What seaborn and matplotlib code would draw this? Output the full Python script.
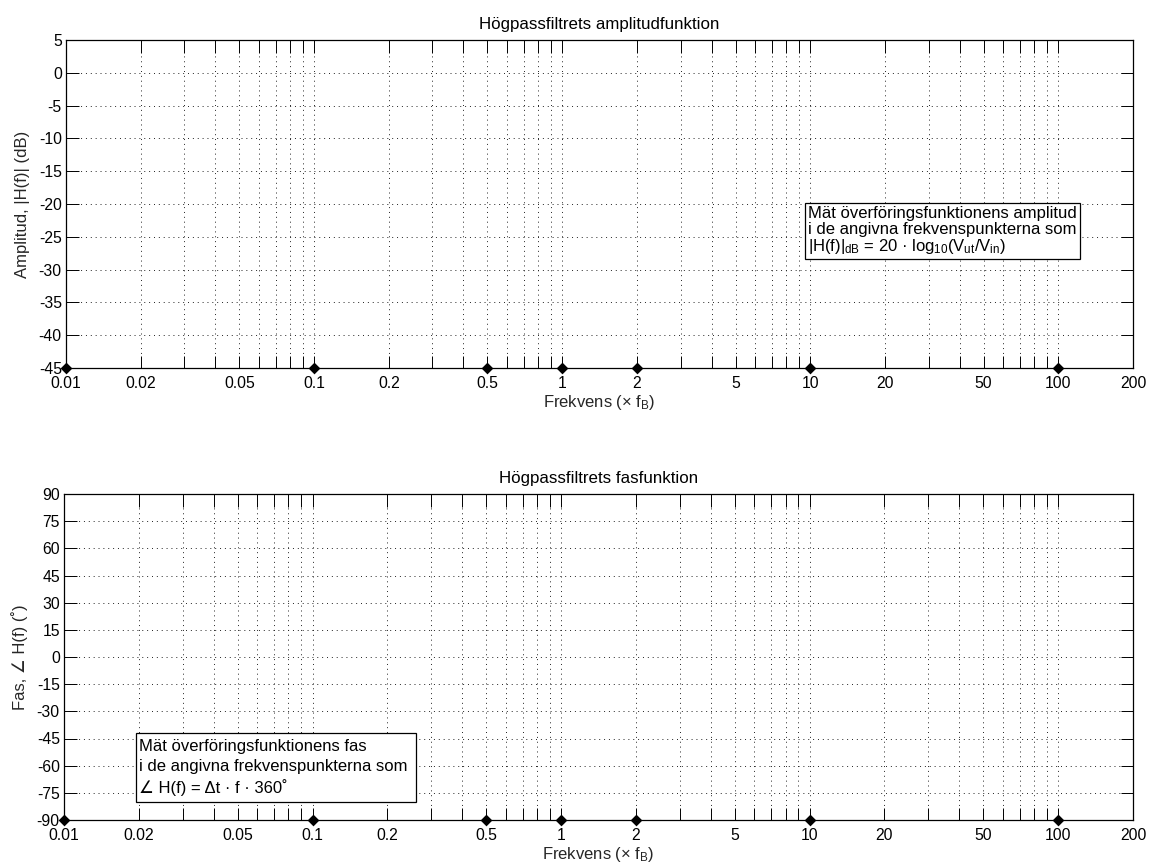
import numpy as np
import matplotlib
matplotlib.use("Agg")
import matplotlib.pyplot as plt
from matplotlib.ticker import FixedLocator, FixedFormatter, LogLocator, NullFormatter
from matplotlib.patches import Rectangle
import seaborn as sns

# ---------------- data ----------------
freq_points = [0.01, 0.1, 0.5, 1, 2, 10, 100]
amp_levels = [-45, -45, -45, -45, -45, -45, -45]
phase_levels = [-90, -90, -90, -90, -90, -90, -90]

x_tick_values = [0.01, 0.02, 0.05, 0.1, 0.2, 0.5, 1, 2, 5, 10, 20, 50, 100, 200]
x_tick_labels = ['0.01', '0.02', '0.05', '0.1', '0.2', '0.5', '1', '2', '5',
                 '10', '20', '50', '100', '200']
amp_ticks = [-45, -40, -35, -30, -25, -20, -15, -10, -5, 0, 5]
phase_ticks = [-90, -75, -60, -45, -30, -15, 0, 15, 30, 45, 60, 75, 90]

title_amp = "Högpassfiltrets amplitudfunktion"
title_phase = "Högpassfiltrets fasfunktion"
xlabel_text = r"Frekvens (× f$_{\mathrm{B}}$)"
ylabel_amp = "Amplitud, |H(f)| (dB)"
ylabel_phase = "Fas, ∠ H(f) (˚)"
box_amp = ("Mät överföringsfunktionens amplitud\n"
           "i de angivna frekvenspunkterna som\n"
           r"|H(f)|$_{\mathrm{dB}}$ = 20 · log$_{10}$(V$_{\mathrm{ut}}$/V$_{\mathrm{in}}$)")
box_phase = ("Mät överföringsfunktionens fas\n"
             "i de angivna frekvenspunkterna som\n"
             "∠ H(f) = Δt · f · 360˚")

# ---------------- style ----------------
sns.set_theme(style="white")
plt.rcParams['font.family'] = ['Liberation Sans', 'DejaVu Sans']
plt.rcParams['mathtext.fontset'] = 'custom'
plt.rcParams['mathtext.rm'] = 'Liberation Sans'
plt.rcParams['mathtext.it'] = 'Liberation Sans:italic'
plt.rcParams['mathtext.bf'] = 'Liberation Sans:bold'
plt.rcParams['mathtext.fallback'] = 'stixsans'
plt.rcParams['axes.edgecolor'] = 'black'
plt.rcParams['text.color'] = 'black'
plt.rcParams['xtick.color'] = 'black'
plt.rcParams['ytick.color'] = 'black'

W, H = 1150, 867
fig = plt.figure(figsize=(W / 100, H / 100), dpi=100)
fig.patch.set_facecolor('white')

ax1 = fig.add_axes([66 / W, (H - 368) / H, 1067 / W, 328 / H])
ax2 = fig.add_axes([64 / W, (H - 820) / H, 1069 / W, 326 / H])

grid_kw = dict(color='#222222', linestyle=(0, (1, 4)), linewidth=0.7)


def style_axis(ax, yticks, ylim, title, ylabel):
    ax.set_xscale('log')
    ax.set_xlim(0.01, 200)
    ax.set_ylim(*ylim)
    ax.xaxis.set_major_locator(FixedLocator(x_tick_values))
    ax.xaxis.set_major_formatter(FixedFormatter(x_tick_labels))
    ax.xaxis.set_minor_locator(LogLocator(base=10, subs=np.arange(1, 10), numticks=100))
    ax.xaxis.set_minor_formatter(NullFormatter())
    ax.set_yticks(yticks)
    ax.set_yticklabels([str(v) for v in yticks])
    ax.tick_params(which='both', direction='in', length=9, width=0.7,
                   top=True, right=True, bottom=True, left=True, labelsize=11.3)
    ax.tick_params(axis='x', which='major', pad=6)
    ax.tick_params(axis='y', which='major', pad=3)
    ax.grid(False)
    ax.grid(True, which='both', axis='x', **grid_kw)
    ax.grid(True, which='major', axis='y', **grid_kw)
    ax.set_axisbelow(True)
    for sp in ax.spines.values():
        sp.set_visible(True)
        sp.set_linewidth(0.9)
        sp.set_color('black')
    ax.set_title(title, fontsize=12.2, pad=8)
    ax.set_xlabel(xlabel_text, fontsize=12, labelpad=1)
    ax.set_ylabel(ylabel, fontsize=12, labelpad=6)
    ax.set_facecolor('white')


# ---------------- top: amplitude ----------------
sns.scatterplot(x=freq_points, y=amp_levels, marker='D', s=36, color='black',
                edgecolor='black', linewidth=0, ax=ax1, clip_on=False, zorder=5)
style_axis(ax1, amp_ticks, (-45, 5), title_amp, ylabel_amp)

ax1.add_patch(Rectangle((0.6926, 0.332), 0.258, 0.171, transform=ax1.transAxes,
                        facecolor='white', edgecolor='black', linewidth=0.9, zorder=3))
ax1.text(0.6955, 0.4175, box_amp, transform=ax1.transAxes, ha='left', va='center',
         fontsize=12, linespacing=1.05, zorder=4)

# ---------------- bottom: phase ----------------
sns.scatterplot(x=freq_points, y=phase_levels, marker='D', s=36, color='black',
                edgecolor='black', linewidth=0, ax=ax2, clip_on=False, zorder=5)
style_axis(ax2, phase_ticks, (-90, 90), title_phase, ylabel_phase)

ax2.add_patch(Rectangle((0.0674, 0.055), 0.2615, 0.212, transform=ax2.transAxes,
                        facecolor='white', edgecolor='black', linewidth=0.9, zorder=3))
ax2.text(0.0700, 0.161, box_phase, transform=ax2.transAxes, ha='left', va='center',
         fontsize=12, linespacing=1.35, zorder=4)

fig.savefig('out.png', dpi=100, facecolor='white')
